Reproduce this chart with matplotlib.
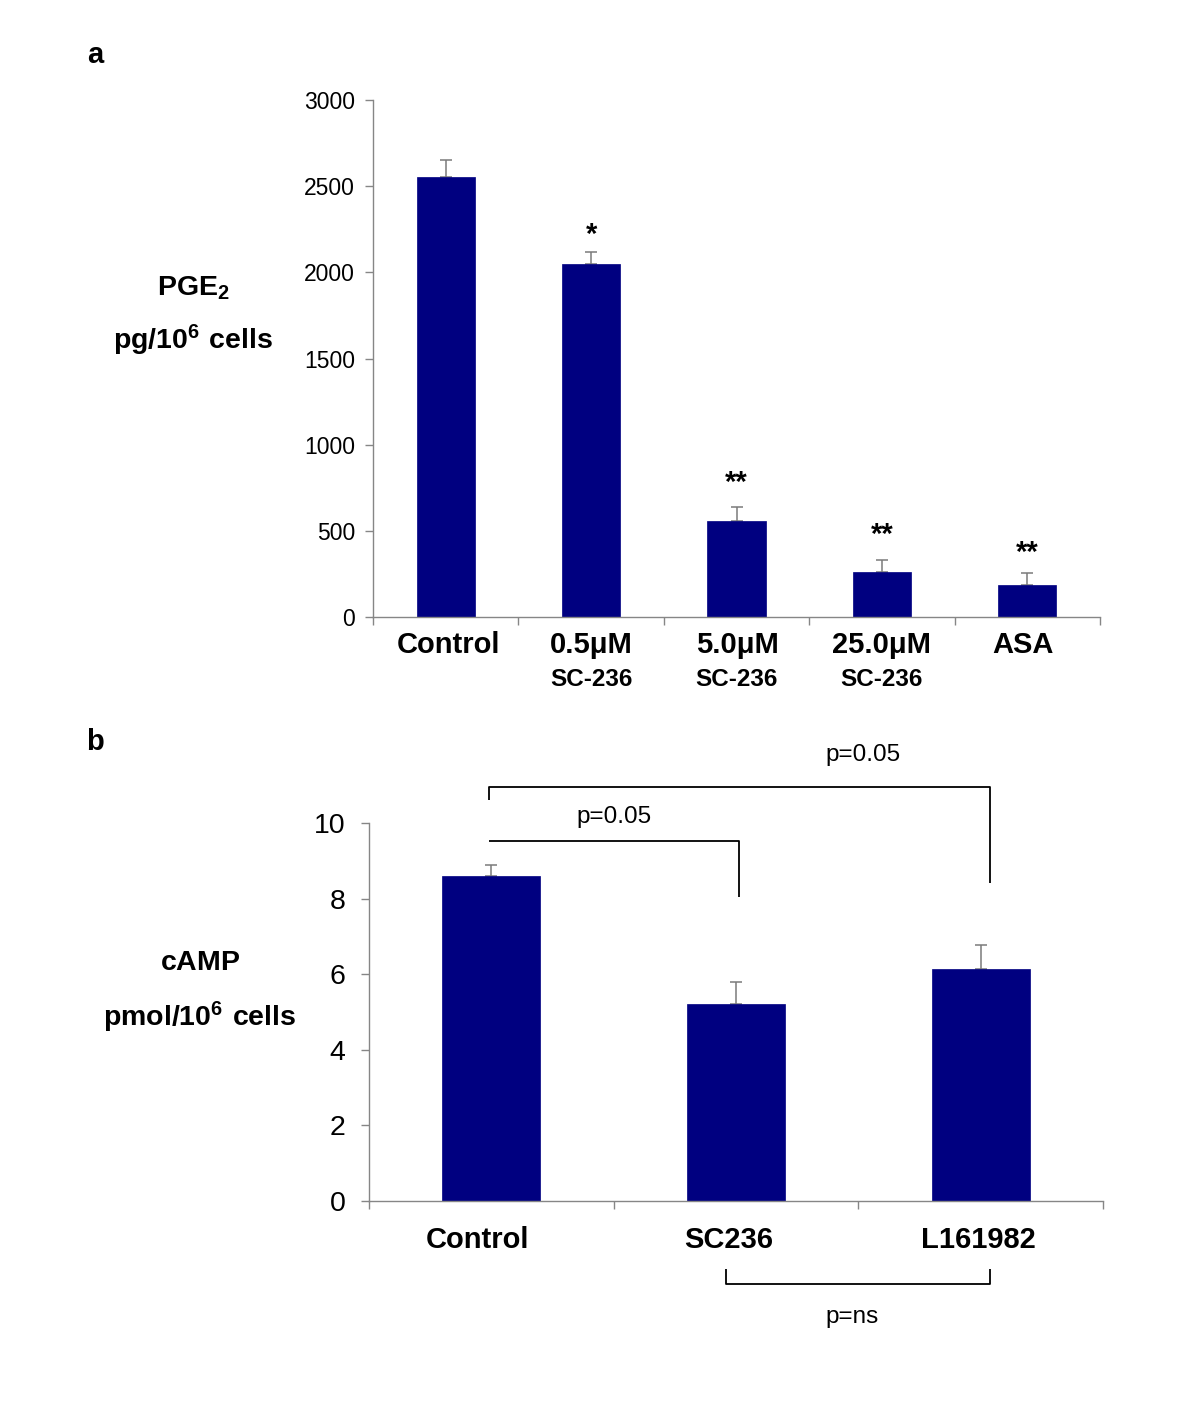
import matplotlib
matplotlib.use("Agg")
import matplotlib.pyplot as plt
import matplotlib.transforms as mtransforms

plt.rcParams['font.family'] = ['Liberation Sans', 'DejaVu Sans']
plt.rcParams['mathtext.fontset'] = 'custom'
plt.rcParams['mathtext.rm'] = 'Liberation Sans'
plt.rcParams['mathtext.bf'] = 'Liberation Sans:bold'

# ---------------- data ----------------
a_main_labels = ["Control", "0.5μM", "5.0μM", "25.0μM", "ASA"]
a_sub_labels = ["", "SC-236", "SC-236", "SC-236", ""]
a_values = [2555, 2050, 555, 262, 185]
a_err = [95, 70, 85, 70, 72]
a_stars = ["", "*", "**", "**", "**"]
a_star_y = [0, 2172, 732, 430, 327]
a_yticks = [0, 500, 1000, 1500, 2000, 2500, 3000]

b_labels = ["Control", "SC236", "L161982"]
b_values = [8.6, 5.21, 6.14]
b_err = [0.28, 0.58, 0.62]
b_yticks = [0, 2, 4, 6, 8, 10]

W, H = 1200, 1418
fig = plt.figure(figsize=(W / 100, H / 100), dpi=100)

def ax_rect(l, r, t, b):
    return [l / W, 1 - b / H, (r - l) / W, (b - t) / H]

BAR = '#000080'
SPINE = '#868686'

def style(ax, ylen_pad):
    for s in ['top', 'right']:
        ax.spines[s].set_visible(False)
    for s in ['left', 'bottom']:
        ax.spines[s].set_color(SPINE)
        ax.spines[s].set_linewidth(1.0)
    ax.tick_params(axis='y', direction='out', length=6, width=1.0, color=SPINE, pad=ylen_pad)
    ax.tick_params(axis='x', direction='out', length=6, width=1.0, color=SPINE, labelbottom=False)

# ---------------- panel a ----------------
axa = fig.add_axes(ax_rect(373, 1100, 100, 617))
xa = list(range(len(a_values)))
axa.bar(xa, a_values, width=0.4, color=BAR, edgecolor=BAR, linewidth=0.5, zorder=2)
axa.errorbar(xa, a_values, yerr=[[0] * len(a_err), a_err], fmt='none', ecolor='#7a7a7a',
             elinewidth=1.1, capsize=4.6, capthick=1.1, zorder=1)
axa.set_xlim(-0.5, len(a_values) - 0.5)
axa.set_ylim(0, 3000)
axa.set_yticks(a_yticks)
axa.set_yticklabels([str(v) for v in a_yticks], fontsize=16.5)
axa.set_xticks([i - 0.5 for i in range(len(a_values) + 1)])
style(axa, 7)
ta = mtransforms.blended_transform_factory(axa.transData, axa.transAxes)
a_label_shift = [0.02, 0.0, 0.01, 0.0, -0.03]
for i, (m, s) in enumerate(zip(a_main_labels, a_sub_labels)):
    axa.text(i + a_label_shift[i], -0.054, m, transform=ta, ha='center', va='center',
             fontsize=21, fontweight='bold')
    if s:
        axa.text(i, -0.12, s, transform=ta, ha='center', va='center', fontsize=17.5, fontweight='bold')
for i, (st, sy) in enumerate(zip(a_stars, a_star_y)):
    if st:
        axa.text(i, sy, st, ha='center', va='baseline', fontsize=21, fontweight='bold')

fig.text(193 / W, 1 - 288 / H, r'$\mathbf{PGE_2}$', ha='center', va='center', fontsize=20.5)
fig.text(193 / W, 1 - 340 / H, r'$\mathbf{pg/10^6\ cells}$', ha='center', va='center', fontsize=20.5)
fig.text(95 / W, 1 - 55 / H, 'a', ha='center', va='center', fontsize=21, fontweight='bold')

# ---------------- panel b ----------------
axb = fig.add_axes(ax_rect(369, 1103, 823, 1201))
xb = list(range(len(b_values)))
axb.bar(xb, b_values, width=0.4, color=BAR, edgecolor=BAR, linewidth=0.5, zorder=2)
axb.errorbar(xb, b_values, yerr=[[0] * len(b_err), b_err], fmt='none', ecolor='#7a7a7a',
             elinewidth=1.1, capsize=4.6, capthick=1.1, zorder=1)
axb.set_xlim(-0.5, len(b_values) - 0.5)
axb.set_ylim(0, 10)
axb.set_yticks(b_yticks)
axb.set_yticklabels([str(v) for v in b_yticks], fontsize=20.5)
axb.set_xticks([i - 0.5 for i in range(len(b_values) + 1)])
style(axb, 11)
tb = mtransforms.blended_transform_factory(axb.transData, axb.transAxes)
b_label_shift = [-0.055, -0.029, -0.011]
for i, lab in enumerate(b_labels):
    axb.text(i + b_label_shift[i], -0.103, lab, transform=tb, ha='center', va='center',
             fontsize=21, fontweight='bold')

lk = dict(color='black', linewidth=1.3, clip_on=False, solid_capstyle='butt')
# outer bracket Control vs L161982
axb.plot([-0.01, -0.01, 2.038, 2.038], [10.61, 10.95, 10.95, 8.41], **lk)
axb.text(1.519, 11.8, 'p=0.05', ha='center', va='center', fontsize=17.5)
# inner bracket Control vs SC236
axb.plot([-0.01, 1.012, 1.012], [9.52, 9.52, 8.04], **lk)
axb.text(0.501, 10.16, 'p=0.05', ha='center', va='center', fontsize=17.5)
# bottom bracket SC236 vs L161982
axb.plot([0.959, 0.959, 2.038, 2.038], [-1.80, -2.20, -2.20, -1.80], **lk)
axb.text(1.474, -3.07, 'p=ns', ha='center', va='center', fontsize=17.5)

fig.text(200 / W, 1 - 963 / H, r'$\mathbf{cAMP}$', ha='center', va='center', fontsize=20.5)
fig.text(200 / W, 1 - 1017 / H, r'$\mathbf{pmol/10^6\ cells}$', ha='center', va='center', fontsize=20.5)
fig.text(95 / W, 1 - 742 / H, 'b', ha='center', va='center', fontsize=21, fontweight='bold')

fig.savefig('out.png', dpi=100, facecolor='white')
